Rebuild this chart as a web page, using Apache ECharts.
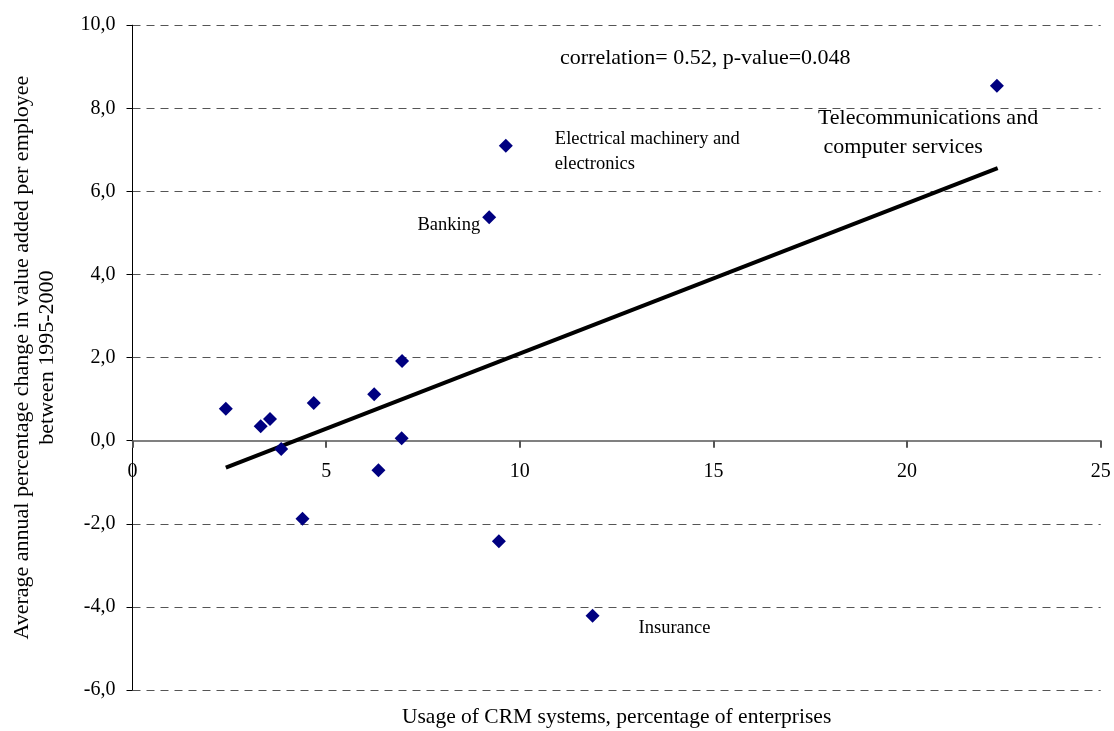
<!DOCTYPE html>
<html>
<head>
<meta charset="utf-8">
<script src="https://cdn.jsdelivr.net/npm/echarts@6/dist/echarts.min.js"></script>
<style>html,body{margin:0;padding:0;background:#fff}#c{width:1114px;height:731px}</style>
</head>
<body>
<div id="c"></div>
<script>
// Usage of CRM systems (%) vs avg annual % change in value added per employee
var crmUsage = [2.41, 3.31, 3.55, 3.84, 4.68, 6.24, 6.96, 6.95, 6.35, 4.39, 9.64, 9.21, 9.46, 11.88, 22.32];
var valueAddedChange = [0.77, 0.35, 0.52, -0.20, 0.91, 1.12, 1.92, 0.06, -0.71, -1.88, 7.10, 5.38, -2.42, -4.21, 8.54];
var pointNames = ['', '', '', '', '', '', '', '', '', '', 'Electrical machinery and\nelectronics', 'Banking', '', 'Insurance', 'Telecommunications and\n computer services'];
var trendX = [2.41, 22.34];
var trendY = [-0.65, 6.56];
var xTickLabels = ['0', '5', '10', '15', '20', '25'];
var yTickLabels = ['-6,0', '-4,0', '-2,0', '0,0', '2,0', '4,0', '6,0', '8,0', '10,0'];
var statsText = 'correlation= 0.52, p-value=0.048';

var FONT = '"Liberation Serif", "Times New Roman", serif';
var W = 1114, H = 731;
var G = {left: 132.5, right: 13.3, top: 25.2, bottom: 41};
var yMin = -6, yMax = 10;
// move the x axis up to the y = 0 line
var xAxisOffset = -((0 - yMin) / (yMax - yMin)) * (H - G.top - G.bottom);

var labelStyles = {
  'Electrical machinery and\nelectronics': {fontSize: 18.5, lineHeight: 25, align: 'left', verticalAlign: 'top', offset: [49, -19]},
  'Banking': {fontSize: 18.5, align: 'right', verticalAlign: 'middle', offset: [-9, 8]},
  'Insurance': {fontSize: 18.5, align: 'left', verticalAlign: 'middle', offset: [46, 13]},
  'Telecommunications and\n computer services': {fontSize: 22, lineHeight: 29, align: 'left', verticalAlign: 'top', offset: [-179, 17.5]}
};

var scatterData = crmUsage.map(function (x, i) {
  var item = {value: [x, valueAddedChange[i]], name: pointNames[i]};
  var st = labelStyles[pointNames[i]];
  if (st) {
    item.label = Object.assign({show: true, position: 'inside', formatter: '{b}', color: '#000', fontFamily: FONT}, st);
  }
  return item;
});
var trendData = trendX.map(function (x, i) { return [x, trendY[i]]; });

var chart = echarts.init(document.getElementById('c'), null, {renderer: 'canvas'});
chart.setOption({
  animation: false,
  backgroundColor: '#fff',
  title: {
    text: statsText, left: 555, top: 42,
    textStyle: {fontFamily: FONT, fontSize: 22, fontWeight: 'normal', color: '#000'}
  },
  grid: {left: G.left, right: G.right, top: G.top, bottom: G.bottom, outerBoundsMode: 'none', containLabel: false},
  xAxis: {
    type: 'value', min: 0, max: 25, interval: 5,
    position: 'bottom', offset: xAxisOffset,
    axisLine: {onZero: false, lineStyle: {color: '#808080', width: 2}},
    axisTick: {show: true, length: 7, lineStyle: {color: '#555', width: 2}},
    axisLabel: {
      color: '#000', fontFamily: FONT, fontSize: 20, margin: 21,
      formatter: function (v) { return xTickLabels[Math.round(v / 5)]; }
    },
    splitLine: {show: false},
    name: 'Usage of CRM systems, percentage of enterprises',
    nameLocation: 'middle', nameGap: 266,
    nameTextStyle: {color: '#000', fontFamily: FONT, fontSize: 21.5}
  },
  yAxis: {
    type: 'value', min: yMin, max: yMax, interval: 2,
    axisLine: {show: true, onZero: false, lineStyle: {color: '#000', width: 1}},
    axisTick: {show: true, length: 6, lineStyle: {color: '#000'}},
    axisLabel: {
      color: '#000', fontFamily: FONT, fontSize: 20, margin: 17,
      formatter: function (v) { return yTickLabels[Math.round((v - yMin) / 2)]; }
    },
    splitLine: {show: true, lineStyle: {color: '#555', type: [8, 6], width: 1}},
    name: 'Average annual percentage change in value added per employee\nbetween 1995-2000',
    nameLocation: 'middle', nameGap: 73, nameRotate: 90,
    nameTextStyle: {color: '#000', fontFamily: FONT, fontSize: 22, lineHeight: 25}
  },
  series: [
    {
      type: 'line', data: trendData, showSymbol: false, symbol: 'none',
      lineStyle: {color: '#000', width: 4}, z: 3, silent: true
    },
    {
      type: 'scatter', data: scatterData, symbol: 'diamond', symbolSize: 14,
      itemStyle: {color: '#000080', opacity: 1}, z: 4
    }
  ]
});
</script>
</body>
</html>
